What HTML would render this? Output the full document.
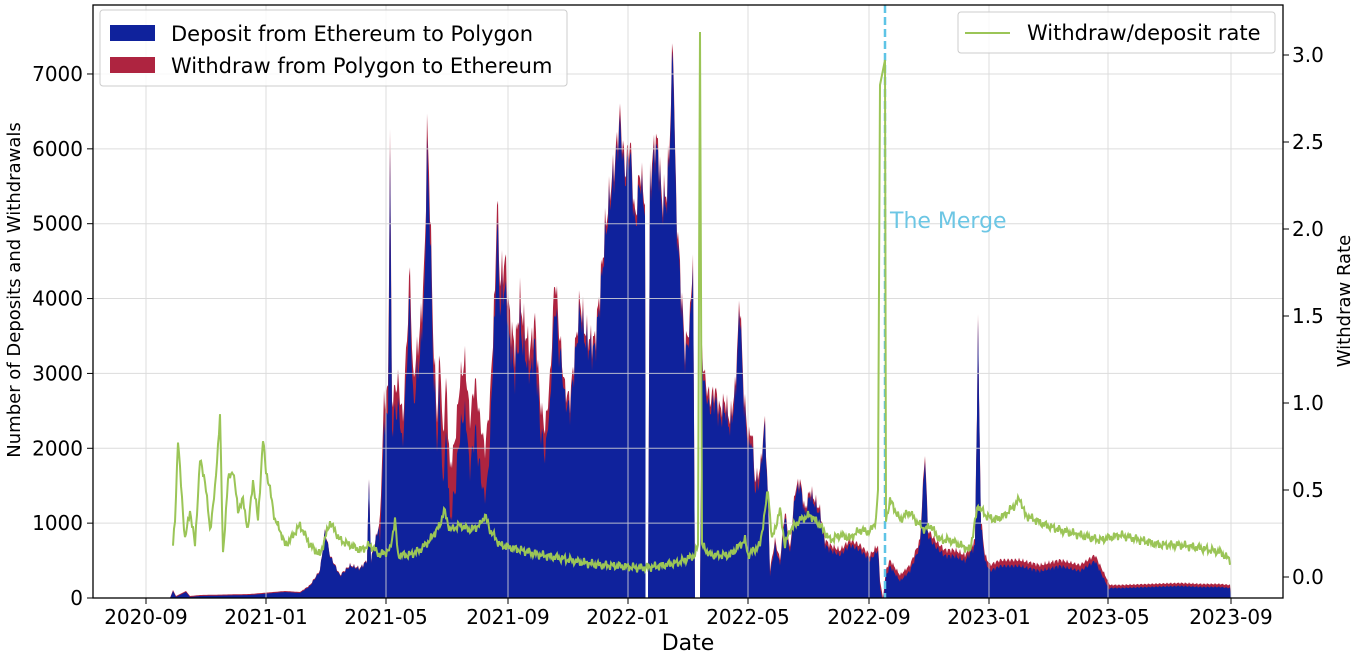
<!DOCTYPE html>
<html><head><meta charset="utf-8"><style>
html,body{margin:0;padding:0;background:#fff;width:1356px;height:660px;overflow:hidden}
text{font-family:"DejaVu Sans","Liberation Sans",sans-serif}
</style></head><body>
<svg id="s" width="1356" height="660" xmlns="http://www.w3.org/2000/svg">
<rect x="0" y="0" width="1356" height="660" fill="#fff"/>
<g id="fill"></g>
<g id="grid" stroke="#d6d6d6" stroke-width="1" opacity="0.85"></g>
<line x1="885" y1="5" x2="885" y2="598" stroke="#5ec4e6" stroke-width="2.5" stroke-dasharray="8,4"/>
<text x="890" y="228" font-size="22" fill="#6cc6e4">The Merge</text>
<polyline id="green" fill="none" stroke="#9bc557" stroke-width="2"/>
<rect x="93" y="5" width="1190" height="593" fill="none" stroke="#000" stroke-width="1.3"/>
<g id="ticks" font-size="20" fill="#000"></g>
<text x="688" y="650" font-size="22" text-anchor="middle">Date</text>
<text transform="translate(20,290) rotate(-90)" font-size="18" text-anchor="middle">Number of Deposits and Withdrawals</text>
<text transform="translate(1350,301) rotate(-90)" font-size="18" text-anchor="middle">Withdraw Rate</text>
<g>
<rect x="100" y="10" width="467" height="76" rx="3" fill="#fff" fill-opacity="0.85" stroke="#ccc"/>
<rect x="110" y="25" width="45" height="16" fill="#0f229c"/>
<text x="171" y="41" font-size="21">Deposit from Ethereum to Polygon</text>
<rect x="110" y="57" width="45" height="16" fill="#ae2440"/>
<text x="171" y="73" font-size="21">Withdraw from Polygon to Ethereum</text>
<rect x="958" y="12" width="317" height="41" rx="3" fill="#fff" fill-opacity="0.85" stroke="#ccc"/>
<line x1="965" y1="33" x2="1010" y2="33" stroke="#9bc557" stroke-width="2"/>
<text x="1027" y="40" font-size="21">Withdraw/deposit rate</text>
</g>
</svg>
<script>
var NS="http://www.w3.org/2000/svg";
function el(t,a,p){var e=document.createElementNS(NS,t);for(var k in a)e.setAttribute(k,a[k]);p.appendChild(e);return e;}
var tot=[[170,598],[173,590],[176,596],[186,591],[190,596],[200,595],[250,594],[285,591],[300,592],[310,585],[320,570],[325,530],[330,555],[340,575],[350,565],[360,568],[367,560],[369,480],[371,560],[380,520],[384,400],[388,390],[390,135],[392,400],[398,380],[403,420],[410,270],[413,380],[420,330],[423,290],[425,250],[427,125],[430,200],[433,330],[437,420],[440,350],[443,440],[446,380],[450,470],[455,440],[460,380],[465,360],[470,420],[475,380],[480,420],[485,450],[490,400],[495,290],[497,195],[500,280],[505,260],[510,320],[515,350],[520,300],[525,330],[530,350],[535,320],[540,400],[545,430],[550,380],[555,275],[560,340],[565,390],[570,400],[575,350],[580,300],[585,330],[590,340],[595,340],[600,290],[605,230],[610,190],[615,160],[620,115],[625,170],[630,140],[635,220],[640,170],[645,200],[646,598],[648,598],[650,180],[655,140],[658,145],[662,200],[667,190],[670,130],[673,35],[676,200],[680,270],[685,350],[690,320],[693,250],[695,598],[700,598],[702,350],[705,380],[710,400],[715,390],[720,410],[725,400],[730,420],[735,390],[740,295],[743,380],[748,440],[752,430],[755,480],[760,470],[765,420],[768,500],[770,570],[775,540],[780,560],[785,510],[790,550],[795,490],[800,480],[805,510],[810,490],[815,500],[820,510],[825,540],[830,545],[840,550],[850,540],[860,545],[870,555],[878,545],[880,580],[883,598],[886,570],[890,560],[900,575],[910,565],[920,540],[925,450],[928,530],[935,540],[945,550],[955,550],[965,555],[975,540],[978,330],[981,520],[985,555],[990,565],[1000,560],[1020,560],[1040,565],[1060,560],[1080,565],[1095,555],[1100,565],[1105,575],[1110,585],[1120,585],[1150,584],[1180,583],[1200,584],[1220,584],[1230,585],[1231,598]];
function interp(P,x){for(var i=0;i<P.length-1;i++){if(x>=P[i][0]&&x<=P[i+1][0]){var t=(x-P[i][0])/(P[i+1][0]-P[i][0]||1);return P[i][1]+t*(P[i+1][1]-P[i][1]);}}return 598;}
function noise(x){return Math.sin(x*1.7)*0.6+Math.sin(x*3.1+1)*0.4;}
var redPts=[],bluePts=[];
for(var x=170;x<=1231;x+=1){
 var y=interp(tot,x);
 var j=(y<590&&x>300)?noise(x)*Math.min(25,(598-y)*0.08):0;
 var yt=Math.min(598,y+j);
 var d;
 if(x<380)d=1;else if(x<560)d=18+12*Math.abs(Math.sin(x*0.7));else if(x<760)d=7+5*Math.abs(Math.sin(x));else if(x<880)d=5;else if(x<1110)d=6;else d=3;
 if(x>=440&&x<=490)d+=25;
 redPts.push([x,yt]);bluePts.push([x,Math.min(598,yt+d)]);
}
function area(P,c){var s="M170,598 ";P.forEach(function(p){s+="L"+p[0]+","+p[1].toFixed(1)+" ";});s+="L1231,598 Z";el("path",{d:s,fill:c},document.getElementById("fill"));}
area(redPts,"#ae2440");area(bluePts,"#0f229c");
el("rect",{x:645.5,y:5,width:2.5,height:593,fill:"#fff"},document.getElementById("fill"));
el("rect",{x:696,y:5,width:3,height:593,fill:"#fff"},document.getElementById("fill"));
var g=document.getElementById("grid"),tk=document.getElementById("ticks");
var xt=[[146,"2020-09"],[266,"2021-01"],[386,"2021-05"],[508,"2021-09"],[628,"2022-01"],[748,"2022-05"],[869,"2022-09"],[989,"2023-01"],[1108,"2023-05"],[1231,"2023-09"]];
xt.forEach(function(t){el("line",{x1:t[0],y1:5,x2:t[0],y2:598},g);el("line",{x1:t[0],y1:598,x2:t[0],y2:604,stroke:"#000"},tk);var e=el("text",{x:t[0],y:624,"text-anchor":"middle"},tk);e.textContent=t[1];});
for(var v=0;v<=7000;v+=1000){var y=598-v*0.07486;el("line",{x1:93,y1:y,x2:1283,y2:y},g);el("line",{x1:87,y1:y,x2:93,y2:y,stroke:"#000"},tk);var e=el("text",{x:83,y:y+7,"text-anchor":"end"},tk);e.textContent=v;}
for(var r=0;r<=3;r+=0.5){var y=577-r*174;el("line",{x1:1283,y1:y,x2:1289,y2:y,stroke:"#000"},tk);var e=el("text",{x:1292,y:y+7},tk);e.textContent=r.toFixed(1);}
var gr=[[173,545],[175,520],[178,440],[180,470],[185,540],[190,510],[195,545],[200,460],[205,480],[210,530],[215,490],[220,415],[223,555],[228,480],[233,470],[238,510],[243,500],[248,530],[253,480],[258,520],[263,440],[266,470],[270,490],[275,520],[280,530],[285,545],[290,540],[300,525],[310,545],[320,555],[330,522],[340,540],[350,545],[360,550],[370,545],[380,555],[390,550],[395,520],[398,555],[410,555],[420,550],[430,540],[440,525],[444,510],[450,530],[460,525],[470,530],[480,525],[485,515],[490,530],[500,545],[520,550],[540,555],[560,558],[580,562],[600,565],[620,566],[640,568],[660,566],[680,562],[695,555],[698,545],[700,32],[702,545],[710,555],[730,555],[745,540],[748,555],[760,545],[768,490],[772,540],[780,510],[785,545],[790,530],[800,520],[810,515],[820,525],[830,540],[840,535],[850,538],[860,530],[870,532],[876,520],[878,490],[880,85],[883,70],[885,60],[886,520],[890,500],[895,510],[900,520],[905,515],[910,512],[915,520],[925,530],[930,525],[940,540],[950,540],[960,545],[970,550],[978,505],[985,515],[995,520],[1005,515],[1015,505],[1020,498],[1025,515],[1035,520],[1045,525],[1060,530],[1080,535],[1100,540],[1120,535],[1140,540],[1160,545],[1180,545],[1200,548],[1220,552],[1230,560]];
var gp=[];for(var x=173;x<=1230;x+=1){var y=interp(gr,x);if(y>300)y+=Math.sin(x*2.3)*3+Math.sin(x*0.9)*2;gp.push(x+","+y.toFixed(1));}
document.getElementById("green").setAttribute("points",gp.join(" "));
</script>
</body></html>
